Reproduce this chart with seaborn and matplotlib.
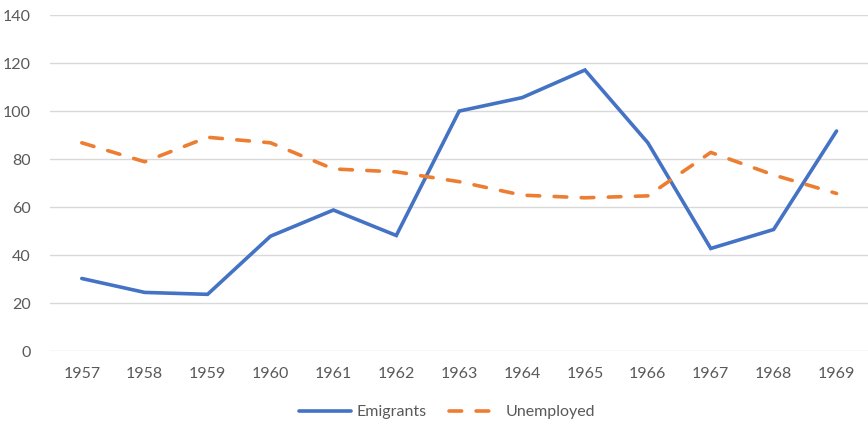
"""
Emigrants vs unemployed, 1957-1969 - Excel-style line chart
"""
import pandas as pd
import matplotlib
matplotlib.use("Agg")
import matplotlib.pyplot as plt
import seaborn as sns

years = [1957, 1958, 1959, 1960, 1961, 1962, 1963, 1964, 1965, 1966, 1967, 1968, 1969]
emigrants = [30.4, 24.6, 23.8, 48.0, 58.9, 48.3, 100.1, 105.7, 117.2, 86.9, 42.9, 50.8, 91.8]
unemployed = [86.9, 79.0, 89.2, 86.9, 76.0, 74.8, 70.7, 65.1, 64.0, 64.8, 82.9, 73.5, 65.8]
series_names = ["Emigrants", "Unemployed"]
y_ticks = [0, 20, 40, 60, 80, 100, 120, 140]

TEXT = "#595959"
GRID = "#D9D9D9"
BLUE = "#4472C4"
ORANGE = "#ED7D31"
DASH = (3.5, 4.0)

df = pd.DataFrame({
    "year": years * 2,
    "value": emigrants + unemployed,
    "series": [series_names[0]] * len(years) + [series_names[1]] * len(years),
})

sns.set_theme(style="white")
plt.rcParams["font.family"] = ["Lato", "DejaVu Sans"]

fig = plt.figure(figsize=(8.68, 4.24), dpi=100)
ax = fig.add_axes([0.058, 0.171, 0.942, 0.793])

sns.lineplot(data=df, x="year", y="value", hue="series", style="series",
             palette={series_names[0]: BLUE, series_names[1]: ORANGE},
             dashes={series_names[0]: "", series_names[1]: DASH},
             linewidth=2.6, ax=ax, legend=False)
for ln in ax.get_lines():
    ln.set_solid_capstyle("round")
    ln.set_dash_capstyle("round")
    ln.set_solid_joinstyle("miter")

ax.set_xlim(years[0] - 0.5, years[-1] + 0.5)
ax.set_ylim(0, 140)
ax.set_xticks(years)
ax.set_xticklabels([str(y) for y in years])
ax.set_yticks(y_ticks)
ax.set_xlabel("")
ax.set_ylabel("")
ax.grid(axis="y", color=GRID, linewidth=1)
ax.set_axisbelow(True)
for s in ax.spines.values():
    s.set_visible(False)
ax.tick_params(axis="both", length=0, labelsize=11.5, colors=TEXT)
ax.tick_params(axis="x", pad=11)
ax.tick_params(axis="y", pad=14)

handles = [plt.Line2D([], [], color=BLUE, linewidth=2.6, solid_capstyle="round"),
           plt.Line2D([], [], color=ORANGE, linewidth=2.6, linestyle=(0, DASH),
                      dash_capstyle="round")]
leg = fig.legend(handles, series_names, loc="center", bbox_to_anchor=(0.515, 0.028),
                 ncol=2, frameon=False, fontsize=11.5, handlelength=3.3,
                 handletextpad=0.3, columnspacing=1.4)
for t in leg.get_texts():
    t.set_color(TEXT)

fig.savefig("out.png", dpi=100)
